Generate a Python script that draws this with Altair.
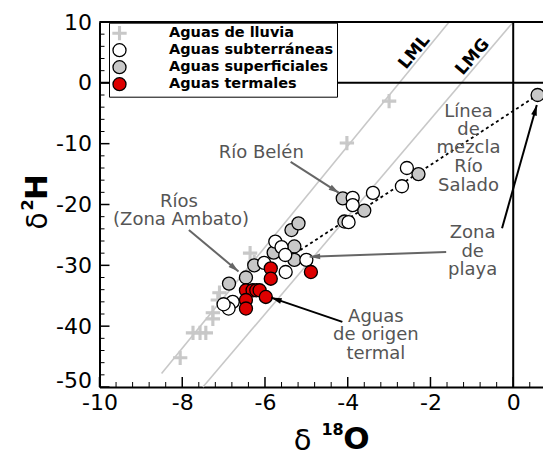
import math
import altair as alt
import pandas as pd

W, H = 443.5, 365
XDOM = [-10, 0.72]
YDOM = [-50, 10]
PXO = W / (XDOM[1] - XDOM[0])
PXH = H / (YDOM[1] - YDOM[0])

cats = ["Aguas de lluvia", "Aguas subterráneas", "Aguas superficiales", "Aguas termales"]

lluvia_o = [-3.0, -4.02, -6.36, -6.26, -7.10, -7.14, -7.26, -7.26, -7.43, -7.57, -7.74, -8.05]
lluvia_h = [-3.0, -9.9, -28.0, -29.5, -34.5, -35.7, -37.8, -38.8, -41.1, -41.1, -41.1, -45.2]

sub_o = [-3.88, -3.88, -3.39, -2.69, -2.57, -3.98, -5.75, -5.60, -5.51, -5.00, -5.50, -6.02, -6.78, -6.88, -7.00]
sub_h = [-18.9, -20.1, -18.1, -17.0, -14.0, -22.9, -26.1, -27.0, -28.3, -29.1, -31.1, -29.6, -36.0, -37.1, -36.4]

sup_o = [-4.12, -3.60, -2.29, 0.59, -4.08, -5.36, -5.19, -5.29, -5.29, -5.79, -6.26, -6.46, -6.87]
sup_h = [-19.0, -21.0, -15.0, -2.0, -22.8, -24.2, -23.1, -26.9, -29.1, -27.9, -30.0, -32.0, -33.0]

ter_o = [-4.89, -5.86, -5.86, -6.46, -6.30, -6.21, -6.13, -5.98, -6.46, -6.46]
ter_h = [-31.1, -30.5, -32.2, -34.1, -34.1, -34.1, -34.1, -35.2, -35.7, -37.1]

lml_o = [-8.5, -1.55]
lml_h = [-47.8, 10.0]
lmg_o = [-7.5, 0.0]
lmg_h = [-50.0, 10.0]
mix_o = [-5.15, 0.59]
mix_h = [-27.5, -2.0]

x_labels = [-10, -8, -6, -4, -2, 0]
y_labels = [-50, -40, -30, -20, -10, 0, 10]
x_minor = [round(-10 + 0.4 * k, 2) for k in range(0, 27) if k % 5 != 0]
y_minor = [v for v in range(-48, 10, 2) if v % 10 != 0]

ann_text = ["Río Belén", "Ríos", "(Zona Ambato)", "Línea", "de", "mezcla", "Río", "Salado",
            "Zona", "de", "playa", "Aguas", "de origen", "termal"]
ann_o = [-6.09, -8.08, -8.03, -1.08, -1.08, -1.08, -1.08, -1.08, -0.98, -0.98, -0.98, -3.32, -3.32, -3.32]
ann_h = [-11.6, -19.6, -22.6, -4.8, -7.8, -10.7, -13.9, -17.0, -24.7, -27.8, -30.8, -38.5, -41.5, -44.5]

arrow_col = ["#666666", "#666666", "#666666", "black", "black"]
arrow_o1 = [-5.38, -7.84, -1.62, -0.27, -4.13]
arrow_h1 = [-13.0, -24.2, -27.8, -23.9, -39.3]
arrow_o2 = [-4.21, -6.64, -4.92, 0.57, -5.85]
arrow_h2 = [-18.1, -31.0, -28.6, -3.65, -35.3]

FONT = "DejaVu Sans"

xaxis = alt.Axis(values=x_labels, title=None, grid=False, ticks=False, tickSize=0,
                 domainColor="black", domainWidth=2, labelFont=FONT, labelFontSize=22,
                 labelColor="black", labelPadding=5, labelFlush=False, labelOverlap=False,
                 labelExpr="'' + datum.value")
yaxis = alt.Axis(values=y_labels, title=None, grid=False, ticks=False, tickSize=0,
                 domainColor="black", domainWidth=2, labelFont=FONT, labelFontSize=22,
                 labelColor="black", labelPadding=8, labelFlush=False, labelOverlap=False,
                 labelExpr="'' + datum.value",
                 labelOffset={"condition": {"test": "datum.value === -50", "value": -7}, "value": 0})


def X(f):
    return alt.X(f"{f}:Q", scale=alt.Scale(domain=XDOM, nice=False, zero=False), axis=xaxis)


def Y(f):
    return alt.Y(f"{f}:Q", scale=alt.Scale(domain=YDOM, nice=False, zero=False), axis=yaxis)


def X2(f):
    return alt.X2(f"{f}:Q")


def Y2(f):
    return alt.Y2(f"{f}:Q")


# points
rows = []
for c, os_, hs in [(cats[0], lluvia_o, lluvia_h), (cats[2], sup_o, sup_h),
                   (cats[1], sub_o, sub_h), (cats[3], ter_o, ter_h)]:
    for o, h in zip(os_, hs):
        rows.append({"cat": c, "o": o, "h": h})
pts = pd.DataFrame(rows)
pts["idx"] = range(len(pts))

cross = "M-1,-0.14H-0.14V-1H0.14V-0.14H1V0.14H0.14V1H-0.14V0.14H-1Z"
leg = alt.Legend(title=None, orient="none", legendX=9.5, legendY=0.7, padding=3,
                 fillColor="white", strokeColor="black", labelFont=FONT, labelFontSize=14.5,
                 labelFontWeight="bold", labelColor="black", symbolSize=170, labelLimit=400,
                 symbolStrokeWidth=1.3, labelOffset=42, rowPadding=-3.4, zindex=1)

points = alt.Chart(pts).mark_point(filled=True, size=170, strokeWidth=1.3, opacity=1).encode(
    x=X("o"), y=Y("h"),
    fill=alt.Fill("cat:N", scale=alt.Scale(domain=cats, range=["#c8c8c8", "white", "#c8c8c8", "#dd0000"]), legend=leg),
    stroke=alt.Stroke("cat:N", scale=alt.Scale(domain=cats, range=["#c8c8c8", "black", "black", "black"]), legend=leg),
    shape=alt.Shape("cat:N", scale=alt.Scale(domain=cats, range=[cross, "circle", "circle", "circle"]), legend=leg),
    order=alt.Order("idx:Q"),
)

lines_df = pd.DataFrame({"o": lml_o + lmg_o, "h": lml_h + lmg_h, "g": ["LML"] * 2 + ["LMG"] * 2})
lines = alt.Chart(lines_df).mark_line(color="#c8c8c8", strokeWidth=1.6).encode(
    x=X("o"), y=Y("h"), detail="g:N")

mix = alt.Chart(pd.DataFrame({"o": mix_o, "h": mix_h})).mark_line(
    color="black", strokeWidth=1.8, strokeDash=[3, 3]).encode(x=X("o"), y=Y("h"))

# ticks (inward)
ytk = alt.Chart(pd.DataFrame({"v": y_labels})).mark_rule(color="black", strokeWidth=1.5).encode(
    y=Y("v"), x=alt.value(0), x2=alt.value(10))
ytm = alt.Chart(pd.DataFrame({"v": y_minor})).mark_rule(color="black", strokeWidth=1).encode(
    y=Y("v"), x=alt.value(0), x2=alt.value(5))
xtk = alt.Chart(pd.DataFrame({"v": x_labels})).mark_rule(color="black", strokeWidth=1.5).encode(
    x=X("v"), y=alt.value(H), y2=alt.value(H - 10))
xtm = alt.Chart(pd.DataFrame({"v": x_minor})).mark_rule(color="black", strokeWidth=1).encode(
    x=X("v"), y=alt.value(H), y2=alt.value(H - 5))

# frame lines
top = alt.Chart(pd.DataFrame({"v": [10]})).mark_rule(color="black", strokeWidth=2).encode(
    y=Y("v"), x=alt.value(0), x2=alt.value(W))
h0 = alt.Chart(pd.DataFrame({"v": [0]})).mark_rule(color="black", strokeWidth=2).encode(
    y=Y("v"), x=alt.value(0), x2=alt.value(W))
v0 = alt.Chart(pd.DataFrame({"v": [0]})).mark_rule(color="black", strokeWidth=2).encode(
    x=X("v"), y=alt.value(0), y2=alt.value(H))

# arrows
adf = pd.DataFrame({"c": arrow_col, "o1": arrow_o1, "h1": arrow_h1, "o2": arrow_o2, "h2": arrow_h2})
adf["ang"] = [
    (math.degrees(math.atan2((b - a) * PXO, (d - c_) * PXH)) + 360) % 360
    for a, b, c_, d in zip(adf.o1, adf.o2, adf.h1, adf.h2)
]
arr_lines = alt.Chart(adf).mark_rule(strokeWidth=2).encode(
    x=X("o1"), y=Y("h1"), x2=X2("o2"), y2=Y2("h2"), color=alt.Color("c:N", scale=None))
head = "M0,0L0.55,2L-0.55,2Z"
arr_heads = alt.Chart(adf).mark_point(shape=head, filled=True, size=110, opacity=1).encode(
    x=X("o2"), y=Y("h2"), fill=alt.Fill("c:N", scale=None), angle=alt.Angle("ang:Q", scale=None))

ann = alt.Chart(pd.DataFrame({"t": ann_text, "o": ann_o, "h": ann_h})).mark_text(
    font=FONT, fontSize=18, color="#555555", align="center", baseline="middle").encode(
    x=X("o"), y=Y("h"), text="t:N")

lbl_df = pd.DataFrame({"t": ["LML", "LMG"], "o": [-2.39, -0.98], "h": [5.07, 4.24], "a": [309.6, 310.7]})
lbl = alt.Chart(lbl_df).mark_text(font=FONT, fontSize=17, fontWeight="bold", color="black",
                                  align="center", baseline="middle").encode(
    x=X("o"), y=Y("h"), text="t:N", angle=alt.Angle("a:Q", scale=None))


def txt(s, x, y, size, weight="normal", angle=0):
    return alt.Chart(pd.DataFrame({"t": [s]})).mark_text(
        font=FONT, fontSize=size, fontWeight=weight, color="black", align="center",
        baseline="middle", angle=angle).encode(text="t:N", x=alt.value(x), y=alt.value(y))


titles = [
    txt("H", -61.5, 165, 31, "bold", 270),
    txt("2", -72, 183, 16, "bold", 270),
    txt("δ", -60.5, 199, 28, "normal", 270),
    txt("δ", 203, 419, 29, "normal"),
    txt("18", 233, 408, 16, "bold"),
    txt("O", 257, 418, 31, "bold"),
]

chart = alt.layer(
    lines, top, h0, v0, ytk, ytm, xtk, xtm, mix, points, arr_lines, arr_heads, ann, lbl, *titles
).properties(
    width=W, height=H,
    autosize=alt.AutoSizeParams(type="none"),
    padding={"left": 91.5, "top": 14, "right": 0, "bottom": 63},
).configure_view(stroke=None)

chart.save("out.html", embed_options={"renderer": "svg", "actions": False})
